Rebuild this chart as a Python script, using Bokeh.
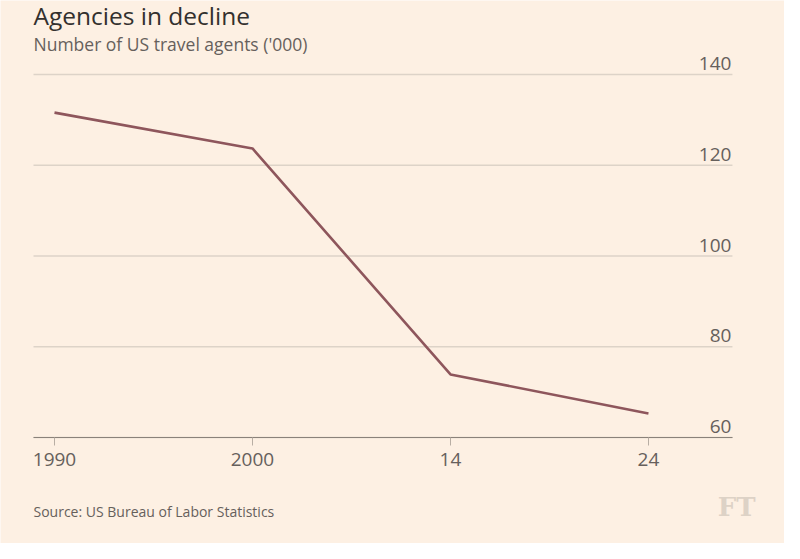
from bokeh.plotting import figure
from bokeh.models import FixedTicker, Label, ColumnDataSource, Range1d
from bokeh.core.properties import value
from bokeh.embed import file_html
from bokeh.resources import INLINE

# Data
years = ["1990", "2000", "14", "24"]
agents = [131.6, 123.7, 73.9, 65.3]
y_ticks = [60, 80, 100, 120, 140]

title_text = "Agencies in decline"
subtitle_text = "Number of US travel agents ('000)"
source_text = "Source: US Bureau of Labor Statistics"

BG = "#fdf0e3"
FONT = "Open Sans"
W, H = 784, 543
x_idx = list(range(len(years)))

# plot area extents (data units)
x_lo, x_hi = -0.106, 3.424
y_lo, y_hi = 60, 140

p = figure(width=W, height=H, output_backend="svg", toolbar_location=None,
           x_range=Range1d(-0.2727, 3.687), y_range=Range1d(36.64, 156.31),
           min_border=0, background_fill_color=BG,
           border_fill_color=BG, outline_line_color=None)

p.yaxis.visible = False
p.xgrid.visible = False
p.ygrid.visible = False

# gridlines across the plot area
gsrc = ColumnDataSource(dict(x0=[x_lo] * len(y_ticks), x1=[x_hi] * len(y_ticks), y=y_ticks))
p.segment("x0", "y", "x1", "y", source=gsrc, line_color="#ddd3c8", line_width=1.5)

# x axis fixed at the bottom of the value range
ax = p.xaxis[0]
ax.fixed_location = y_lo
ax.bounds = (x_lo, x_hi)
ax.ticker = FixedTicker(ticks=x_idx)
ax.major_label_overrides = {i: y for i, y in zip(x_idx, years)}
ax.axis_line_color = "#8a827a"
ax.axis_line_width = 1.2
ax.major_tick_line_color = "#b8aea4"
ax.major_tick_out = 8
ax.major_tick_in = 0
ax.minor_tick_line_color = None
ax.major_label_text_font = FONT
ax.major_label_text_font_size = "19px"
ax.major_label_text_color = "#66605c"
ax.major_label_standoff = 7

# line
src = ColumnDataSource(dict(x=x_idx, y=agents))
p.line("x", "y", source=src, line_color="#8e565c", line_width=2.6)

# y labels above gridlines
ysrc = ColumnDataSource(dict(x=[x_hi] * len(y_ticks), y=y_ticks, t=[str(v) for v in y_ticks]))
p.text("x", "y", text="t", source=ysrc, text_align="right", text_baseline="middle",
       x_offset=-1, y_offset=-11, text_font=value(FONT), text_font_size="19px",
       text_color="#66605c")

# titles, source, logo (screen units from the bottom-left corner)
p.add_layout(Label(x=33, y=528, x_units="screen", y_units="screen", text=title_text,
                   text_font=FONT, text_font_size="24.5px", text_color="#33302e",
                   text_baseline="middle"))
p.add_layout(Label(x=33, y=500, x_units="screen", y_units="screen", text=subtitle_text,
                   text_font=FONT, text_font_size="17.5px", text_color="#66605c",
                   text_baseline="middle"))
p.add_layout(Label(x=33, y=32, x_units="screen", y_units="screen", text=source_text,
                   text_font=FONT, text_font_size="14px", text_color="#66605c",
                   text_baseline="middle"))
p.add_layout(Label(x=755, y=36.5, x_units="screen", y_units="screen", text="FT",
                   text_font="DejaVu Serif", text_font_size="26px", text_font_style="bold",
                   text_color="#ddd2c6", text_align="right", text_baseline="middle"))

open("out.html", "w").write(file_html(p, INLINE))
